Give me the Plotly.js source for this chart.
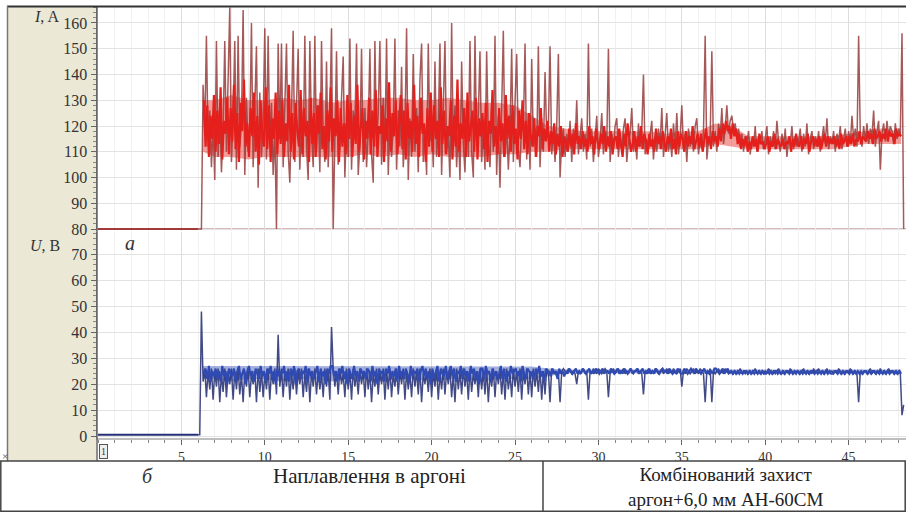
<!DOCTYPE html>
<html>
<head>
<meta charset="utf-8">
<script src="https://cdn.plot.ly/plotly-3.0.1.min.js"></script>
<style>html,body{margin:0;padding:0;background:#fff;}#chart{width:906px;height:512px;}</style>
</head>
<body>
<div id="chart"></div>
<script>
// ---------- DATA ----------
// time axis (s); samples every 0.1 s
const T_DARK_START = 6.0;   // first sample of the "dark" series
const T_CORE_START = 6.35;  // first sample of the "core" series
const T_STEP = 0.1;

// baseline before the arc ignites
const baseT = [0, 6.0];
const baseI = [80, 80];
const baseU = [0.5, 0.5];

// Current I, A — outer (dark) envelope, t = 6.0 … 48.3
const iDark = [
 80,80,80,136,118,155,112,126,104,121,      // 6
 99,153,108,128,102,118,153,110,135,166,    // 7
 106,124,153,103,155,112,121,165,101,131,   // 8
 110,118,160,104,127,151,96,133,108,122,    // 9
 158,107,155,112,129,101,119,80,152,115,    // 10
 152,104,128,152,110,98,124,157,106,131,    // 11
 150,103,126,108,155,112,99,153,118,104,    // 12
 155,110,128,102,153,116,106,145,104,124,   // 13
 158,80,124,149,105,112,131,147,100,121,    // 14
 108,154,103,126,119,152,101,113,150,106,   // 15
 127,104,118,150,109,98,153,112,125,153,    // 16
 105,131,110,154,101,122,108,119,154,103,   // 17
 126,112,143,104,118,158,99,123,108,148,    // 18
 110,127,102,138,152,106,119,101,152,114,   // 19
 123,104,145,108,121,152,101,126,153,109,   // 20
 117,100,160,111,128,104,120,99,145,113,    // 21
 102,129,108,153,110,100,155,112,124,149,   // 22
 106,121,103,149,115,104,128,110,155,101,   // 23
 124,96,132,157,108,120,103,118,150,106,    // 24
 129,148,111,104,122,118,152,107,125,103,   // 25
 146,112,119,108,151,104,123,110,141,116,   // 26
 119,151,109,118,106,120,148,100,114,119,   // 27
 108,117,110,122,106,119,113,130,109,116,   // 28
 123,110,117,107,152,112,119,106,115,124,   // 29
 108,114,125,109,118,113,150,106,117,111,   // 30
 120,123,108,116,111,119,123,106,114,117,   // 31
 127,110,116,107,121,112,118,140,109,115,   // 32
 111,118,122,107,116,110,119,113,127,108,   // 33
 117,125,110,115,108,121,112,125,109,116,   // 34
 128,111,117,106,119,112,116,110,120,123,   // 35
 109,115,111,118,155,107,114,116,149,112,   // 36
 118,110,121,116,127,113,119,128,117,122,   // 37
 124,118,121,115,119,112,117,110,116,113,   // 38
 118,109,115,112,120,110,116,113,118,111,   // 39
 115,120,109,116,112,118,111,122,114,110,   // 40
 117,112,119,108,115,113,120,111,116,112,   // 41
 114,119,110,117,112,121,109,115,118,111,   // 42
 116,112,118,110,115,120,113,123,111,116,   // 43
 113,118,110,117,114,120,111,116,119,112,   // 44
 118,113,124,115,119,112,155,116,112,120,   // 45
 114,121,113,119,116,126,112,118,122,103,   // 46
 117,121,114,122,116,120,118,113,121,115,   // 47
 119,117,156,80                             // 48
];

// Current I, A — dense (bright) core, t = 6.35 … 48.15
const iCore = [
 130,112,128,108,124,115,132,               // 6
 110,126,113,135,107,122,117,131,109,127,   // 7
 114,136,111,125,106,129,118,138,112,121,   // 8
 108,127,116,133,110,124,105,130,117,112,   // 9
 135,111,128,106,123,115,133,109,126,113,   // 10
 130,108,121,114,136,110,125,107,129,118,   // 11
 112,134,109,127,116,122,106,131,113,125,   // 12
 108,128,117,133,111,120,107,126,114,135,   // 13
 110,123,116,130,106,127,112,121,109,132,   // 14
 115,129,108,124,113,136,110,119,127,107,   // 15
 122,115,131,109,126,112,134,108,120,117,   // 16
 128,106,123,114,137,110,125,116,130,109,   // 17
 119,132,111,126,107,129,115,122,110,136,   // 18
 113,124,108,131,117,121,106,127,112,133,   // 19
 110,128,115,122,108,135,113,126,109,120,   // 20
 116,130,107,124,112,138,110,121,115,127,   // 21
 108,133,114,119,126,110,131,107,123,116,   // 22
 125,111,129,106,122,117,134,112,120,109,   // 23
 127,114,121,108,132,115,124,110,128,113,   // 24
 119,107,126,115,130,111,122,109,125,116,   // 25
 112,123,108,120,116,127,111,119,114,122,   // 26
 110,118,113,121,109,117,112,120,108,116,   // 27
 114,110,119,112,117,109,121,113,116,111,   // 28
 118,112,115,110,120,113,116,109,119,114,   // 29
 111,117,113,120,110,116,112,118,109,115,   // 30
 116,111,119,113,108,117,112,121,114,110,   // 31
 113,118,110,116,112,120,111,117,114,109,   // 32
 117,112,115,110,119,113,116,111,118,114,   // 33
 110,116,113,119,111,115,109,118,112,117,   // 34
 115,110,118,112,116,113,120,111,114,117,   // 35
 112,117,110,115,119,113,116,111,118,114,   // 36
 116,112,119,114,121,117,122,118,120,115,   // 37
 121,116,119,113,117,111,115,112,116,110,   // 38
 114,111,116,112,115,110,117,113,114,111,   // 39
 113,116,110,114,112,117,111,115,113,112,   // 40
 115,111,114,113,116,110,115,112,117,113,   // 41
 112,116,111,115,113,117,110,114,116,112,   // 42
 115,112,116,111,114,117,112,116,113,115,   // 43
 113,116,112,115,111,117,113,114,116,112,   // 44
 116,113,117,112,115,114,118,113,116,115,   // 45
 114,118,115,117,113,119,115,116,118,114,   // 46
 117,115,119,114,118,116,117,113,119,116,   // 47
 117,116                                    // 48
];

// dense-mass band of the current (read per second)
const bandT = [6.3,7,8,9,10,11,12,13,14,15,16,17,18,19,20,21,22,23,24,25,26,27,
               28,29,30,31,32,33,34,35,36,37,38,39,40,41,42,43,44,45,46,47,48,48.15];
const iBandLo = [110,108,108,107,108,108,108,108,108,108,109,108,109,108,109,108,108,108,109,109,110,110,
                 111,111,111,111,111,111,111,111,111,113,112,111,111,111,111,111,111,112,113,113,113,113];
const iBandHi = [130,130,132,130,130,131,130,131,129,130,130,131,131,130,130,131,130,129,129,128,124,120,
                 119,118,118,118,118,118,117,118,118,121,120,116,116,116,116,116,116,117,118,119,118,118];

// Voltage U, V — outer (dips) series, t = 6.0 … 48.3
const uDark = [
 0.5,0.5,48,21,26,15,25,18,26,14,   // 6
 25,19,26,13,24,17,26,15,25,20,     // 7
 26,14,25,18,26,16,24,13,25,19,     // 8
 26,15,24,20,25,13,26,17,25,15,     // 9
 24,18,26,14,25,20,26,16,39,19,     // 10
 26,15,25,19,26,14,24,18,26,16,     // 11
 25,20,26,15,24,17,26,13,25,19,     // 12
 26,16,25,18,24,15,26,19,25,14,     // 13
 42,26,19,25,16,26,20,24,15,26,     // 14
 18,25,14,26,19,24,16,26,20,25,     // 15
 15,26,18,25,13,24,19,26,16,25,     // 16
 20,26,14,25,18,26,15,24,19,26,     // 17
 16,25,20,26,14,25,18,24,15,26,     // 18
 19,25,16,26,13,24,20,25,17,26,     // 19
 15,25,19,26,14,24,18,26,16,25,     // 20
 20,26,15,24,13,26,18,25,16,26,     // 21
 19,25,14,26,17,24,20,25,15,26,     // 22
 18,25,16,26,13,24,19,26,15,25,     // 23
 20,26,16,25,14,26,18,24,15,26,     // 24
 19,25,17,26,14,25,20,26,16,25,     // 25
 15,26,19,25,17,26,14,25,16,26,     // 26
 25,13,26,24,25,23,25,13,25,26,     // 27
 25,24,26,25,24,25,24,20,25,24,     // 28
 25,26,24,25,14,25,24,26,25,24,     // 29
 26,25,24,25,26,25,15,24,25,26,     // 30
 24,25,26,24,25,26,24,25,24,26,     // 31
 25,24,25,26,24,25,24,16,25,24,     // 32
 26,24,25,24,26,25,24,25,26,24,     // 33
 25,26,24,25,24,26,25,24,25,26,     // 34
 19,25,24,26,25,24,25,26,24,25,     // 35
 24,26,25,24,13,25,24,26,13,25,     // 36
 24,25,26,24,25,24,26,25,24,25,     // 37
 25,24,25,24,25,26,24,25,24,25,     // 38
 24,25,24,25,26,24,25,24,25,24,     // 39
 25,24,26,25,24,25,24,25,26,24,     // 40
 24,25,24,25,24,26,25,24,25,25,     // 41
 25,24,25,26,24,25,24,25,24,26,     // 42
 24,25,26,24,25,24,25,26,24,25,     // 43
 25,24,25,24,26,25,24,25,24,25,     // 44
 24,26,25,24,25,24,13,25,24,25,     // 45
 25,24,25,26,24,25,24,25,24,26,     // 46
 24,25,24,25,26,24,25,24,25,24,     // 47
 25,24,8,12                         // 48
];

// Voltage U, V — dense (bright) core, t = 6.35 … 48.15
const uCore = [
 24,26,22,27,21,25,23,              // 6
 26,22,25,21,27,23,25,20,26,24,     // 7
 23,26,21,25,27,22,24,26,20,25,     // 8
 27,23,25,21,26,24,22,27,23,25,     // 9
 21,26,24,27,22,25,20,26,23,25,     // 10
 24,27,22,25,21,26,23,27,20,25,     // 11
 26,22,25,24,27,21,26,23,25,22,     // 12
 25,27,21,26,23,25,20,26,24,27,     // 13
 27,23,25,21,26,24,27,22,25,20,     // 14
 26,24,22,27,23,25,21,26,24,25,     // 15
 22,26,25,21,27,23,25,20,26,24,     // 16
 25,21,26,24,27,22,25,23,26,21,     // 17
 27,23,25,22,26,24,21,27,23,25,     // 18
 24,26,21,25,27,23,26,22,25,20,     // 19
 26,22,25,27,21,26,24,23,27,22,     // 20
 25,27,23,26,21,25,24,27,22,26,     // 21
 23,25,21,27,24,26,22,25,20,26,     // 22
 26,22,27,24,25,21,26,23,25,22,     // 23
 24,27,22,26,21,25,23,27,24,25,     // 24
 26,23,25,21,27,24,22,26,25,23,     // 25
 25,22,26,24,27,23,25,21,26,24,     // 26
 25,23,26,24,25,22,26,24,25,23,     // 27
 25,24,26,25,24,25,26,24,25,24,     // 28
 26,25,24,25,26,24,25,24,26,25,     // 29
 24,25,26,24,25,25,24,26,25,24,     // 30
 25,26,24,25,24,26,25,24,25,26,     // 31
 24,25,25,26,24,25,26,24,25,24,     // 32
 26,24,25,24,26,25,24,25,26,25,     // 33
 25,24,26,25,24,25,24,26,25,24,     // 34
 24,26,25,24,25,26,25,24,26,25,     // 35
 25,24,25,26,24,25,24,25,24,26,     // 36
 26,25,24,25,26,24,25,26,24,25,     // 37
 24,25,24,25,24,25,24,25,25,24,     // 38
 25,24,25,24,25,24,25,24,25,24,     // 39
 24,25,24,25,24,25,25,24,25,24,     // 40
 25,24,25,25,24,25,24,25,24,25,     // 41
 24,25,24,25,24,25,24,25,25,24,     // 42
 25,24,25,24,25,24,25,24,25,24,     // 43
 24,25,25,24,25,24,25,24,25,25,     // 44
 24,25,24,25,24,25,24,25,24,25,     // 45
 25,24,25,24,25,25,24,25,24,25,     // 46
 24,25,24,25,24,25,25,24,25,24,     // 47
 25,24                              // 48
];

// dense-mass band of the voltage (read per second)
const uBandLo = [22,22,21,22,22,21,22,22,21,22,22,21,22,22,21,22,22,21,22,22,22,23,
                 24.2,24.2,24.2,24.2,24.2,24.2,24.2,24.2,24.2,24.2,24.2,24.2,24.2,24.2,24.2,24.2,24.2,24.2,24.2,24.2,24.2,24.2];
const uBandHi = [27,27,27,27,27,27,27,27,27,27,27,27,27,27,27,27,27,27,27,27,26.8,26,
                 25.6,25.6,25.6,25.6,25.6,25.6,25.6,25.6,25.6,25.6,25.6,25.6,25.6,25.6,25.6,25.6,25.6,25.6,25.6,25.6,25.6,25.6];

const xTickVals = [5, 10, 15, 20, 25, 30, 35, 40, 45];
const iTickVals = [80, 90, 100, 110, 120, 130, 140, 150, 160];
const uTickVals = [0, 10, 20, 30, 40, 50, 60, 70];

const labelI = '<i>I</i>, A';
const labelU = '<i>U</i>, B';
const panelA = '<i>а</i>';
const panelB = '<i>б</i>';
const caption1 = 'Наплавлення в аргоні';
const caption2 = 'Комбінований захист<br>аргон+6,0 мм АН-60СМ';

// ---------- BUILD ----------
const timeAxis = (start, n) => Array.from({length: n}, (_, k) => +(start + k * T_STEP).toFixed(3));
const P = px => px / 906;
const Q = py => 1 - py / 512;
const SERIF = 'Times New Roman, Liberation Serif, DejaVu Serif, serif';

const traces = [
  // bands (drawn first, under the signal lines)
  {x: bandT, y: iBandLo, xaxis: 'x', yaxis: 'y', mode: 'lines', line: {width: 0, color: 'rgba(0,0,0,0)'}},
  {x: bandT, y: iBandHi, xaxis: 'x', yaxis: 'y', mode: 'lines', line: {width: 0, color: 'rgba(0,0,0,0)'},
   fill: 'tonexty', fillcolor: 'rgba(228,40,32,0.45)'},
  {x: bandT, y: uBandLo, xaxis: 'x', yaxis: 'y2', mode: 'lines', line: {width: 0, color: 'rgba(0,0,0,0)'}},
  {x: bandT, y: uBandHi, xaxis: 'x', yaxis: 'y2', mode: 'lines', line: {width: 0, color: 'rgba(0,0,0,0)'},
   fill: 'tonexty', fillcolor: 'rgba(50,78,180,0.45)'},
  // current
  {x: baseT, y: baseI, xaxis: 'x', yaxis: 'y', mode: 'lines', line: {color: '#a33a3a', width: 2}},
  {x: timeAxis(T_DARK_START, iDark.length), y: iDark, xaxis: 'x', yaxis: 'y', mode: 'lines',
   line: {color: 'rgba(150,60,60,0.85)', width: 1.5}},
  {x: timeAxis(T_CORE_START, iCore.length), y: iCore, xaxis: 'x', yaxis: 'y', mode: 'lines',
   line: {color: '#e5201c', width: 2.2}},
  // voltage
  {x: baseT, y: baseU, xaxis: 'x', yaxis: 'y2', mode: 'lines', line: {color: '#26307a', width: 2}},
  {x: timeAxis(T_DARK_START, uDark.length), y: uDark, xaxis: 'x', yaxis: 'y2', mode: 'lines',
   line: {color: 'rgba(45,55,120,0.9)', width: 1.5}},
  {x: timeAxis(T_CORE_START, uCore.length), y: uCore, xaxis: 'x', yaxis: 'y2', mode: 'lines',
   line: {color: '#2f4bb3', width: 2.1}}
];

const yCommon = {
  ticks: 'outside', ticklen: 5, tickcolor: '#666', showline: true, linecolor: '#666', linewidth: 1.5,
  showgrid: true, gridcolor: '#e2e2e2', zeroline: false,
  tickfont: {family: SERIF, size: 16, color: '#333'},
  minor: {dtick: 2, ticklen: 3, tickcolor: '#888', ticks: 'outside', showgrid: false}
};

const ann = (text, px, py, size, color, extra) => Object.assign({
  text: text, xref: 'paper', yref: 'paper', x: P(px), y: Q(py), xanchor: 'center', yanchor: 'middle',
  showarrow: false, font: {family: SERIF, size: size, color: color}
}, extra || {});

const layout = {
  width: 906, height: 512,
  margin: {l: 0, r: 0, t: 0, b: 0},
  paper_bgcolor: '#ffffff', plot_bgcolor: '#ffffff',
  showlegend: false,
  font: {family: SERIF, color: '#333'},
  xaxis: {
    domain: [P(97), 1], range: [-0.06, 48.44], anchor: 'y2',
    tickvals: xTickVals, ticktext: xTickVals.map(String),
    ticks: 'outside', ticklen: 5, tickcolor: '#666',
    showline: true, linecolor: '#bdbdbd', linewidth: 2,
    showgrid: true, gridcolor: '#dcdcdc', zeroline: false,
    tickfont: {family: SERIF, size: 14, color: '#333'},
    minor: {dtick: 1, ticklen: 3, tickcolor: '#888', ticks: 'outside', showgrid: true, gridcolor: '#f1f1f1'}
  },
  yaxis: Object.assign({}, yCommon, {
    domain: [Q(230.5), Q(7)], range: [79.42, 166.21], anchor: 'x', tickvals: iTickVals
  }),
  yaxis2: Object.assign({}, yCommon, {
    domain: [Q(438), Q(231.5)], range: [-0.77, 78.85], anchor: 'x', tickvals: uTickVals
  }),
  shapes: [
    {type: 'rect', xref: 'paper', yref: 'paper', x0: P(7), x1: P(96), y0: Q(461), y1: Q(7),
     fillcolor: '#ebe8d6', line: {width: 0}, layer: 'below'},
    {type: 'line', xref: 'paper', yref: 'y', x0: P(97), x1: 1, y0: 80, y1: 80,
     line: {color: '#d9b9b9', width: 2}, layer: 'below'},
    {type: 'line', xref: 'paper', yref: 'paper', x0: P(97), x1: P(97), y0: Q(461), y1: Q(7),
     line: {color: '#666', width: 1.5}},
    {type: 'line', xref: 'paper', yref: 'paper', x0: P(7), x1: 1, y0: Q(6.5), y1: Q(6.5),
     line: {color: '#333', width: 2}},
    {type: 'line', xref: 'paper', yref: 'paper', x0: P(7.5), x1: P(7.5), y0: Q(461), y1: Q(6),
     line: {color: '#777', width: 1.5}},
    {type: 'rect', xref: 'paper', yref: 'paper', x0: P(0.8), x1: P(905.2), y0: Q(511.2), y1: Q(461),
     fillcolor: '#ffffff', line: {color: '#444', width: 1.5}},
    {type: 'line', xref: 'paper', yref: 'paper', x0: P(543), x1: P(543), y0: Q(512), y1: Q(461),
     line: {color: '#444', width: 1.5}}
  ],
  annotations: [
    ann(labelI, 46, 16, 16, '#333'),
    ann(labelU, 45, 245, 16, '#333'),
    ann(panelA, 130, 243, 20, '#333'),
    ann(panelB, 147, 476, 20, '#333'),
    ann(caption1, 369, 476, 21, '#222'),
    ann(caption2, 725, 486.5, 19, '#222'),
    ann('1', 103, 451, 10, '#333', {bordercolor: '#555', borderwidth: 1, borderpad: 1, bgcolor: '#eeeeee'}),
    ann('×', 5, 456, 11, '#555')
  ]
};

Plotly.newPlot('chart', traces, layout, {staticPlot: true, displayModeBar: false});
</script>
</body>
</html>
